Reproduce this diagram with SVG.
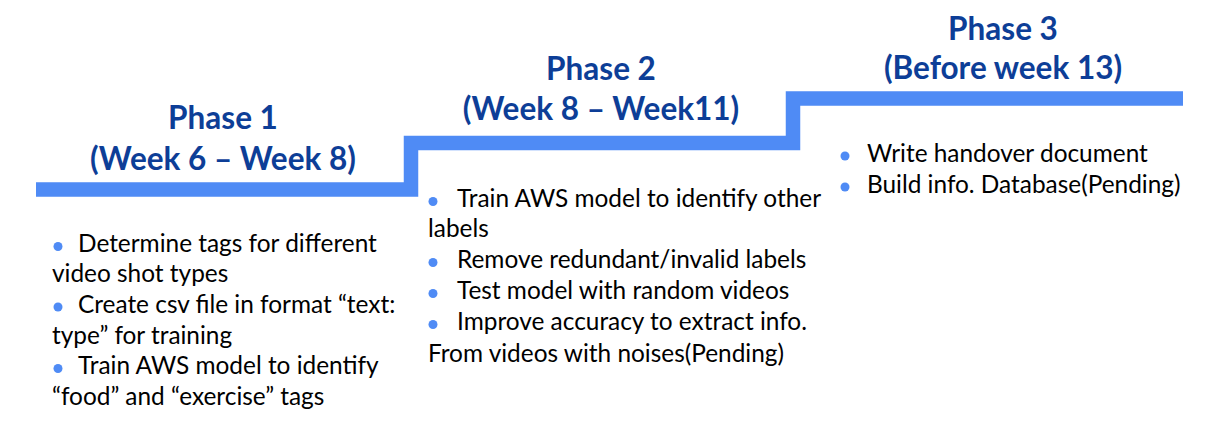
<svg xmlns="http://www.w3.org/2000/svg" width="1226" height="435" viewBox="0 0 1226 435">
<style>
.title{font-family:Lato,"Liberation Sans",sans-serif;font-weight:bold;font-size:31.5px;fill:#0D3E97;text-anchor:middle}
.body{font-family:Lato,"Liberation Sans",sans-serif;font-size:24.4px;fill:#000}
.dot{fill:#4F8BF5}
.step{fill:none;stroke:#4F8BF5;stroke-width:14.5;stroke-linejoin:miter}
</style>
<rect width="1226" height="435" fill="#fff"/>
<g id="connectors">
<path class="step" d="M36,189.5 H411 V143 H793 V98.5 H1183"/>
</g>
<g id="phase1">
<text class="title" x="223" y="129">Phase 1</text>
<text class="title" x="223" y="170">(Week 6 – Week 8)</text>
<circle class="dot" cx="58" cy="246.5" r="4.5"/>
<text class="body" x="78" y="252">Determine tags for different</text>
<text class="body" x="52" y="282">video shot types</text>
<circle class="dot" cx="58" cy="307" r="4.5"/>
<text class="body" x="78" y="312.5">Create csv file in format “text:</text>
<text class="body" x="52" y="343.5">type” for training</text>
<circle class="dot" cx="58" cy="368.5" r="4.5"/>
<text class="body" x="78" y="374">Train AWS model to identify</text>
<text class="body" x="52" y="405">“food” and “exercise” tags</text>
</g>
<g id="phase2">
<text class="title" x="601" y="80">Phase 2</text>
<text class="title" x="601" y="120">(Week 8 – Week11)</text>
<circle class="dot" cx="433" cy="201.5" r="4.5"/>
<text class="body" x="457" y="207">Train AWS model to identify other</text>
<text class="body" x="428" y="237">labels</text>
<circle class="dot" cx="433" cy="262.5" r="4.5"/>
<text class="body" x="457" y="268">Remove redundant/invalid labels</text>
<circle class="dot" cx="433" cy="293.5" r="4.5"/>
<text class="body" x="457" y="299">Test model with random videos</text>
<circle class="dot" cx="433" cy="324.5" r="4.5"/>
<text class="body" x="457" y="330">Improve accuracy to extract info.</text>
<text class="body" x="428" y="362">From videos with noises(Pending)</text>
</g>
<g id="phase3">
<text class="title" x="1003" y="40">Phase 3</text>
<text class="title" x="1003" y="79">(Before week 13)</text>
<circle class="dot" cx="845" cy="156" r="4.5"/>
<text class="body" x="867" y="162">Write handover document</text>
<circle class="dot" cx="845" cy="187" r="4.5"/>
<text class="body" x="867" y="193">Build info. Database(Pending)</text>
</g>
</svg>
